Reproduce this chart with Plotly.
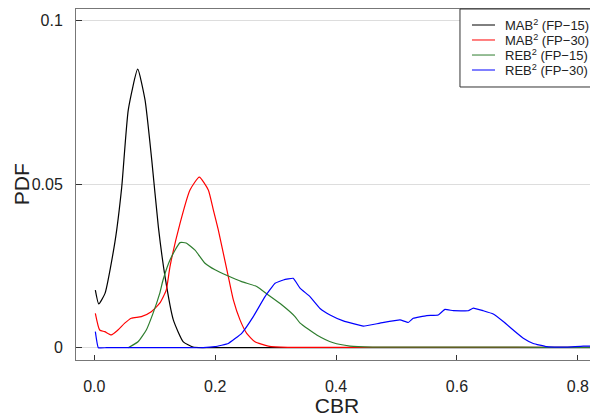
import plotly.graph_objects as go

# ---- data ----
mab15_x = [0.0017, 0.0073, 0.0177, 0.0342, 0.0453, 0.0562, 0.0718, 0.0839, 0.095, 0.1059,
           0.117, 0.1307, 0.1472, 0.1633, 0.18, 0.20, 0.30, 0.40, 0.50, 0.60, 0.70, 0.80, 0.84]
mab15_y = [0.0176, 0.0134, 0.0166, 0.0324, 0.049, 0.0727, 0.0851, 0.0757, 0.0574, 0.037,
           0.0217, 0.0085, 0.0018, 0.0002, 0.0, 0.0, 0.0, 0.0, 0.0, 0.0, 0.0, 0.0, 0.0]

mab30_x = [0.0017, 0.0089, 0.0172, 0.028, 0.039, 0.0503, 0.0612, 0.0778, 0.0943, 0.1082,
           0.119, 0.1252, 0.1418, 0.1583, 0.1737, 0.1886, 0.1969, 0.2051, 0.2134, 0.2217,
           0.23, 0.241, 0.2521, 0.2658, 0.2878, 0.32, 0.40, 0.50, 0.60, 0.70, 0.80, 0.84]
mab30_y = [0.0105, 0.0054, 0.0049, 0.0039, 0.0054, 0.0075, 0.009, 0.0095, 0.011, 0.0136,
           0.0176, 0.0248, 0.038, 0.0482, 0.0521, 0.0482, 0.0421, 0.036, 0.0289, 0.0217,
           0.0146, 0.0085, 0.0044, 0.0018, 0.0005, 0.0001, 0.0001, 0.0001, 0.0001, 0.0001, 0.0001, 0.0001]

reb15_x = [0.056, 0.0723, 0.086, 0.0971, 0.1082, 0.1137, 0.1252, 0.1418, 0.1517, 0.1666,
           0.1831, 0.1997, 0.2217, 0.2438, 0.2687, 0.2878, 0.31, 0.332, 0.3405, 0.368,
           0.3954, 0.423, 0.46, 0.55, 0.65, 0.75, 0.84]
reb15_y = [0.0, 0.0018, 0.0054, 0.0105, 0.0166, 0.0207, 0.0268, 0.0321, 0.032, 0.0298,
           0.0258, 0.0238, 0.0219, 0.0202, 0.0187, 0.0161, 0.0131, 0.0095, 0.0075, 0.0039,
           0.0015, 0.0005, 0.0002, 0.0002, 0.0002, 0.0001, 0.0001]

reb30_x = [0.0017, 0.0066, 0.02, 0.05, 0.10, 0.15, 0.18, 0.1997, 0.2217, 0.2438, 0.263, 0.2824,
           0.299, 0.3127, 0.329, 0.3403, 0.3568, 0.3734, 0.39, 0.4119, 0.445, 0.4726,
           0.5057, 0.5194, 0.5277, 0.5499, 0.569, 0.5801, 0.5939, 0.6187, 0.627, 0.6435,
           0.66, 0.6766, 0.6931, 0.7097, 0.7262, 0.7484, 0.7815, 0.8089, 0.84]
reb30_y = [0.0049, 0.0, 0.0, 0.0, 0.0, 0.0, 0.0, 0.0003, 0.0013, 0.0044, 0.0095, 0.0156,
           0.0197, 0.0207, 0.0212, 0.0182, 0.0156, 0.012, 0.01, 0.0082, 0.0066, 0.0075,
           0.0085, 0.0077, 0.009, 0.0098, 0.01, 0.0117, 0.0113, 0.0113, 0.0121, 0.0113,
           0.0103, 0.008, 0.0054, 0.0029, 0.0013, 0.0003, 0.0002, 0.0005, 0.0004]

series_names = ["MAB<sup>2</sup> (FP\u221215)", "MAB<sup>2</sup> (FP\u221230)",
                "REB<sup>2</sup> (FP\u221215)", "REB<sup>2</sup> (FP\u221230)"]
series_colors = ["#000000", "#FF0000", "#2E7D2E", "#0000FF"]
series_smoothing = [0.5, 0.5, 0.5, 0.3]

x_ticks = [0.0, 0.2, 0.4, 0.6, 0.8]
x_tick_labels = ["0.0", "0.2", "0.4", "0.6", "0.8"]
y_ticks = [0.0, 0.05, 0.1]
y_tick_labels = ["0", "0.05", "0.1"]

FONT = "Liberation Sans, Arial, sans-serif"

fig = go.Figure()
for (xs, ys), name, col, sm in zip(
        [(mab15_x, mab15_y), (mab30_x, mab30_y), (reb15_x, reb15_y), (reb30_x, reb30_y)],
        series_names, series_colors, series_smoothing):
    fig.add_trace(go.Scatter(x=xs, y=ys, mode="lines", name=name, showlegend=False,
                             line=dict(color=col, width=1.2, shape="spline", smoothing=sm)))

# manual legend (R style box)
fig.add_shape(type="rect", xref="paper", yref="paper", x0=0.7356, x1=1.02, y0=0.7778, y1=1.0,
              line=dict(color="#333", width=1), fillcolor="white", layer="above")
leg_y = [0.9544, 0.9117, 0.8689, 0.8262]
for yy, name, col in zip(leg_y, series_names, series_colors):
    fig.add_shape(type="line", xref="paper", yref="paper", x0=0.7586, x1=0.8027, y0=yy, y1=yy,
                  line=dict(color=col, width=1), layer="above")
    fig.add_annotation(xref="paper", yref="paper", x=0.818, y=yy, text=name, showarrow=False,
                       xanchor="left", yanchor="middle", font=dict(family=FONT, size=13, color="#222"))

# y axis title placed as rotated text left of the tick labels
fig.add_annotation(xref="paper", yref="paper", x=-0.104, y=0.5, text="PDF", textangle=-90,
                   showarrow=False, xanchor="center", yanchor="middle", borderpad=0,
                   font=dict(family=FONT, size=21, color="#222"))

# page body has an 8px default margin, so the figure is sized/placed to compensate
fig.update_layout(
    width=590, height=409,
    margin=dict(l=68, r=0, t=1, b=57),
    paper_bgcolor="white", plot_bgcolor="white",
    font=dict(family=FONT, color="#222"),
    xaxis=dict(range=[-0.0303, 0.8333], tickvals=x_ticks, ticktext=x_tick_labels,
               ticks="inside", ticklen=5, tickcolor="#333", tickwidth=1, automargin=False,
               showline=True, linecolor="#777", linewidth=1, mirror=True,
               showgrid=False, zeroline=False, tickfont=dict(size=16, color="#222"),
               ticklabelstandoff=12,
               title=dict(text="CBR", font=dict(size=21, color="#222"), standoff=8)),
    yaxis=dict(range=[-0.00376, 0.1035], tickvals=y_ticks, ticktext=y_tick_labels,
               ticks="inside", ticklen=6, tickcolor="#333", tickwidth=1, automargin=False,
               showline=True, linecolor="#777", linewidth=1, mirror=False,
               showgrid=True, gridcolor="#DDDDDD", gridwidth=1, zeroline=False,
               tickfont=dict(size=16, color="#222"), ticklabelstandoff=9),
)

fig.write_html("out.html")
